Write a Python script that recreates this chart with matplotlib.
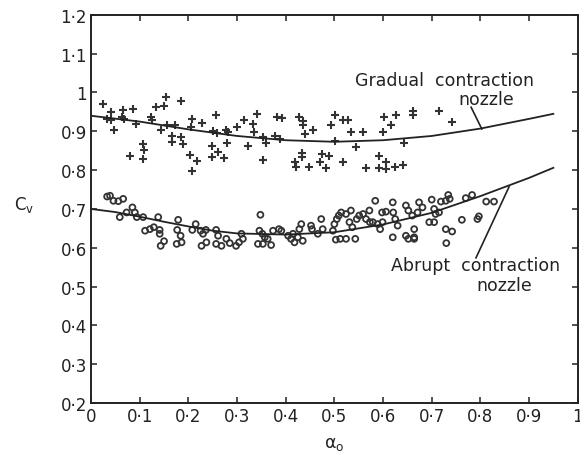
import matplotlib
matplotlib.use("Agg")
import matplotlib.pyplot as plt
from matplotlib.ticker import FixedLocator, FuncFormatter

# gradual contraction nozzle, "+" markers
grad_x = [0.025, 0.041, 0.066, 0.087, 0.133, 0.150, 0.154, 0.184, 0.032, 0.042,
          0.063, 0.068, 0.048, 0.092, 0.123, 0.125, 0.143, 0.156, 0.173, 0.167,
          0.167, 0.184, 0.188, 0.207, 0.206, 0.228, 0.256, 0.251, 0.258, 0.278,
          0.282, 0.279, 0.300, 0.314, 0.322, 0.107, 0.109, 0.107, 0.081, 0.203,
          0.218, 0.208, 0.249, 0.249, 0.260, 0.273,
          0.340, 0.333, 0.334, 0.354, 0.360, 0.377, 0.389, 0.382, 0.393, 0.427,
          0.436, 0.435, 0.439, 0.456, 0.353, 0.420, 0.421, 0.447, 0.434, 0.434,
          0.475, 0.488, 0.471, 0.482, 0.502, 0.493, 0.517, 0.529, 0.534, 0.559,
          0.502, 0.544, 0.518, 0.602, 0.626, 0.616, 0.600, 0.662, 0.662, 0.643,
          0.592, 0.607, 0.566, 0.591, 0.606, 0.625, 0.641, 0.715, 0.742]
grad_y = [0.971, 0.949, 0.955, 0.958, 0.962, 0.964, 0.988, 0.978, 0.932, 0.928,
          0.936, 0.932, 0.904, 0.919, 0.936, 0.929, 0.904, 0.917, 0.915, 0.889,
          0.872, 0.885, 0.868, 0.932, 0.910, 0.921, 0.942, 0.902, 0.895, 0.904,
          0.898, 0.869, 0.910, 0.928, 0.863, 0.868, 0.852, 0.829, 0.837, 0.840,
          0.824, 0.797, 0.863, 0.835, 0.846, 0.831,
          0.945, 0.919, 0.898, 0.886, 0.869, 0.889, 0.880, 0.938, 0.935, 0.938,
          0.926, 0.915, 0.892, 0.904, 0.826, 0.820, 0.809, 0.809, 0.843, 0.835,
          0.842, 0.837, 0.820, 0.806, 0.941, 0.917, 0.928, 0.928, 0.898, 0.898,
          0.876, 0.859, 0.820, 0.938, 0.943, 0.915, 0.897, 0.953, 0.941, 0.869,
          0.837, 0.820, 0.806, 0.806, 0.803, 0.809, 0.814, 0.953, 0.924]

# abrupt contraction nozzle, "o" markers
abr_x = [0.033, 0.039, 0.046, 0.056, 0.066, 0.059, 0.073, 0.085, 0.090, 0.094,
         0.107, 0.111, 0.121, 0.129, 0.141, 0.141, 0.138, 0.143, 0.150, 0.176,
         0.186, 0.179, 0.177, 0.184, 0.208, 0.215, 0.225, 0.230, 0.236, 0.227,
         0.237, 0.257, 0.261, 0.257, 0.268, 0.278, 0.285, 0.298, 0.304, 0.309,
         0.312,
         0.348, 0.346, 0.352, 0.357, 0.343, 0.353, 0.370, 0.363, 0.374, 0.386,
         0.391, 0.405, 0.411, 0.418, 0.415, 0.425, 0.428, 0.432, 0.435, 0.452,
         0.454, 0.466, 0.473, 0.476, 0.497, 0.500, 0.505, 0.509, 0.514, 0.524,
         0.534, 0.531, 0.537, 0.503, 0.512, 0.524, 0.543, 0.546, 0.551, 0.559,
         0.565, 0.572, 0.573, 0.584, 0.579, 0.589, 0.594, 0.598, 0.606, 0.599,
         0.620, 0.621, 0.625, 0.630, 0.620, 0.647, 0.652, 0.647, 0.652, 0.660,
         0.664,
         0.674, 0.681, 0.700, 0.719, 0.729, 0.734, 0.737, 0.770, 0.783, 0.812,
         0.828, 0.705, 0.708, 0.695, 0.705, 0.664, 0.664, 0.671, 0.729, 0.742,
         0.730, 0.762, 0.794, 0.797, 0.715]
abr_y = [0.732, 0.734, 0.721, 0.720, 0.726, 0.679, 0.691, 0.704, 0.691, 0.679,
         0.679, 0.644, 0.648, 0.653, 0.646, 0.636, 0.679, 0.605, 0.617, 0.610,
         0.614, 0.672, 0.646, 0.631, 0.646, 0.661, 0.644, 0.636, 0.646, 0.605,
         0.614, 0.646, 0.631, 0.610, 0.605, 0.623, 0.612, 0.605, 0.614, 0.636,
         0.623,
         0.685, 0.644, 0.636, 0.627, 0.610, 0.610, 0.607, 0.623, 0.644, 0.648,
         0.644, 0.631, 0.623, 0.614, 0.636, 0.627, 0.648, 0.661, 0.618, 0.657,
         0.648, 0.636, 0.674, 0.648, 0.644, 0.661, 0.674, 0.683, 0.691, 0.687,
         0.696, 0.666, 0.653, 0.621, 0.623, 0.623, 0.623, 0.674, 0.683, 0.687,
         0.674, 0.696, 0.666, 0.721, 0.666, 0.661, 0.648, 0.691, 0.693, 0.666,
         0.717, 0.691, 0.674, 0.657, 0.627, 0.709, 0.696, 0.631, 0.623, 0.683,
         0.627,
         0.717, 0.704, 0.724, 0.719, 0.721, 0.736, 0.726, 0.728, 0.736, 0.719,
         0.719, 0.700, 0.687, 0.666, 0.666, 0.648, 0.623, 0.691, 0.648, 0.642,
         0.612, 0.672, 0.674, 0.681, 0.691]

# fitted curves
grad_fit_x = [0.0, 0.1, 0.2, 0.3, 0.4, 0.5, 0.6, 0.7, 0.8, 0.9, 0.95]
grad_fit_y = [0.940, 0.925, 0.905, 0.888, 0.877, 0.873, 0.877, 0.888, 0.907, 0.932, 0.945]
abr_fit_x = [0.0, 0.05, 0.1, 0.15, 0.2, 0.25, 0.3, 0.4, 0.5, 0.6, 0.7, 0.8, 0.9, 0.95]
abr_fit_y = [0.700, 0.692, 0.680, 0.667, 0.655, 0.644, 0.637, 0.634, 0.640, 0.660,
             0.690, 0.733, 0.780, 0.806]

x_ticks = [0.0, 0.1, 0.2, 0.3, 0.4, 0.5, 0.6, 0.7, 0.8, 0.9, 1.0]
y_ticks = [0.2, 0.3, 0.4, 0.5, 0.6, 0.7, 0.8, 0.9, 1.0, 1.1, 1.2]


def dot_label(value, pos=None):
    if abs(value - round(value)) < 1e-9:
        return str(int(round(value)))
    return f"{value:.1f}".replace(".", "\u00b7")


plt.rcParams["font.family"] = ["DejaVu Sans"]

fig = plt.figure(figsize=(5.8, 4.52), dpi=100)
ax = fig.add_axes([0.157, 0.106, 0.839, 0.859])

ax.plot(grad_fit_x, grad_fit_y, color="#222222", lw=1.3)
ax.plot(abr_fit_x, abr_fit_y, color="#222222", lw=1.3)
ax.scatter(grad_x, grad_y, marker="+", s=38, color="#333333", linewidths=1.5)
ax.scatter(abr_x, abr_y, marker="o", s=18, facecolors="none",
           edgecolors="#333333", linewidths=1.3)

# labels with leader lines
ax.text(0.542, 1.031, "Gradual  contraction", fontsize=12.5, color="#222222",
        ha="left", va="center")
ax.text(0.812, 0.984, "nozzle", fontsize=12.5, color="#222222",
        ha="center", va="center")
ax.plot([0.781, 0.803], [0.962, 0.906], color="#222222", lw=1.2)

ax.text(0.617, 0.555, "Abrupt  contraction", fontsize=12.5, color="#222222",
        ha="left", va="center")
ax.text(0.850, 0.503, "nozzle", fontsize=12.5, color="#222222",
        ha="center", va="center")
ax.plot([0.859, 0.791], [0.757, 0.574], color="#222222", lw=1.2)

ax.set_xlim(0, 1)
ax.set_ylim(0.2, 1.2)
ax.xaxis.set_major_locator(FixedLocator(x_ticks))
ax.yaxis.set_major_locator(FixedLocator(y_ticks))
ax.xaxis.set_major_formatter(FuncFormatter(dot_label))
ax.yaxis.set_major_formatter(FuncFormatter(dot_label))
ax.tick_params(direction="in", length=4, width=1.1, labelsize=12,
               colors="#222222", top=True, right=True, pad=3)
for spine in ax.spines.values():
    spine.set_linewidth(1.4)
    spine.set_color("#222222")

ax.set_xlabel(r"$\mathregular{\alpha_o}$", fontsize=12.5, color="#222222", labelpad=6)
fig.text(24 / 580, 1 - 205 / 452, r"$\mathregular{C_v}$", fontsize=12,
         color="#222222", ha="center", va="center")

fig.savefig("out.png", dpi=100, facecolor="white")
